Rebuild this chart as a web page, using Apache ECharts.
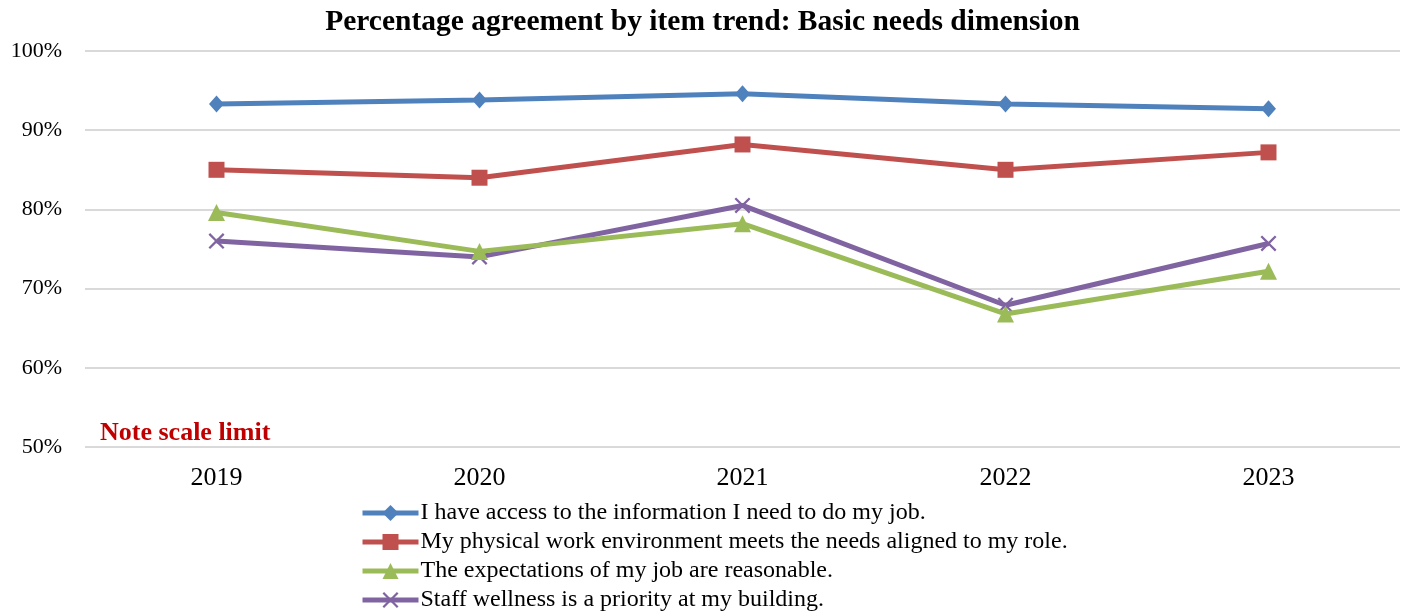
<!DOCTYPE html>
<html>
<head>
<meta charset="utf-8">
<script src="https://cdn.jsdelivr.net/npm/echarts@6/dist/echarts.min.js"></script>
<style>
  html, body { margin: 0; padding: 0; background: #fff; }
  #chart { width: 1405px; height: 613px; }
</style>
</head>
<body>
<div id="chart"></div>
<script>
// Survey years along the x axis
const years = ['2019', '2020', '2021', '2022', '2023'];

// Item names shown in the legend
const itemNames = [
  'I have access to the information I need to do my job.',
  'My physical work environment meets the needs aligned to my role.',
  'The expectations of my job are reasonable.',
  'Staff wellness is a priority at my building.'
];

// Percentage agreement per item, one value per year
const infoAccess   = [93.3, 93.8, 94.6, 93.3, 92.7];
const environment  = [85.0, 84.0, 88.2, 85.0, 87.2];
const expectations = [79.6, 74.7, 78.2, 66.8, 72.2];
const wellness     = [76.0, 74.0, 80.5, 67.9, 75.7];

// Y axis range (percent)
const yMin = 50, yMax = 100, yStep = 10;

const colors = ['#4f81bd', '#c0504d', '#9bbb59', '#8064a2'];
const crossPath = 'path://M0,1L1,0L5,4L9,0L10,1L6,5L10,9L9,10L5,6L1,10L0,9L4,5Z';
const symbols = ['diamond', 'rect', 'triangle', crossPath];
const symbolSizes = [[15, 17], 16, 17, 16];
const seriesData = [infoAccess, environment, expectations, wellness];

const serif = '"Liberation Serif", "DejaVu Serif", serif';

const chart = echarts.init(document.getElementById('chart'), null, { renderer: 'canvas' });

chart.setOption({
  animation: false,
  color: colors,
  textStyle: { fontFamily: serif },
  title: {
    text: 'Percentage agreement by item trend: Basic needs dimension',
    left: 'center',
    top: 2,
    textStyle: { fontFamily: serif, fontSize: 29.5, fontWeight: 'bold', color: '#000' }
  },
  grid: { left: 85, right: 5, top: 51, bottom: 166, containLabel: false },
  legend: {
    orient: 'vertical',
    left: 360,
    top: 501,
    padding: 0,
    itemWidth: 56,
    itemHeight: 20,
    itemGap: 5,
    lineStyle: { width: 5 },
    textStyle: { fontFamily: serif, fontSize: 24, color: '#000', lineHeight: 24, padding: [0, 0, 0, -3] },
    data: itemNames
  },
  xAxis: {
    type: 'category',
    data: years,
    boundaryGap: true,
    axisLine: { show: false },
    axisTick: { show: false },
    axisLabel: { fontFamily: serif, fontSize: 26, color: '#000', margin: 18 }
  },
  yAxis: {
    type: 'value',
    min: yMin,
    max: yMax,
    interval: yStep,
    axisLine: { show: false },
    axisTick: { show: false },
    axisLabel: { fontFamily: serif, fontSize: 22, color: '#000', margin: 23, formatter: v => v + '%' },
    splitLine: { lineStyle: { color: '#d9d9d9', width: 2 } }
  },
  graphic: [{
    type: 'text',
    x: 100,
    y: 433,
    style: {
      text: 'Note scale limit',
      font: 'bold 26px ' + serif,
      fill: '#c00000',
      verticalAlign: 'middle'
    }
  }],
  series: itemNames.map((name, i) => ({
    name,
    type: 'line',
    data: seriesData[i],
    symbol: symbols[i],
    symbolSize: symbolSizes[i],
    showSymbol: true,
    lineStyle: { width: 5, color: colors[i] },
    itemStyle: { color: colors[i] },
    z: 10 - i
  }))
});
</script>
</body>
</html>
